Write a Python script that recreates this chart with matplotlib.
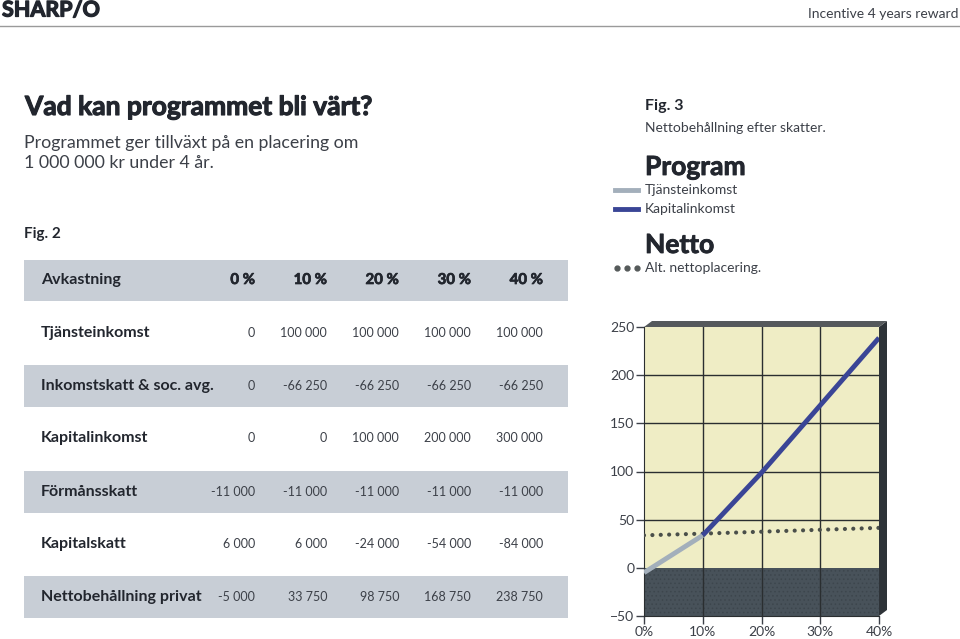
import numpy as np
import matplotlib.pyplot as plt
from matplotlib.patches import Rectangle, Polygon
import matplotlib.patheffects as pe

# tabell (Fig. 2)
avkastning = ["0 %", "10 %", "20 %", "30 %", "40 %"]
rad_namn = ["Tjänsteinkomst", "Inkomstskatt & soc. avg.", "Kapitalinkomst",
            "Förmånsskatt", "Kapitalskatt", "Nettobehållning privat"]
tjanst = ["0", "100 000", "100 000", "100 000", "100 000"]
inkomstskatt = ["0", "-66 250", "-66 250", "-66 250", "-66 250"]
kapitalinkomst = ["0", "0", "100 000", "200 000", "300 000"]
formansskatt = ["-11 000", "-11 000", "-11 000", "-11 000", "-11 000"]
kapitalskatt = ["6 000", "6 000", "-24 000", "-54 000", "-84 000"]
netto_txt = ["-5 000", "33 750", "98 750", "168 750", "238 750"]

# diagram (Fig. 3), tusental kr
x_pct = [0, 10, 20, 30, 40]
netto = [-5, 33.75, 98.75, 168.75, 238.75]
alt_netto = [33.75, 35.5, 37.5, 39.5, 41.5]
y_ticks = [-50, 0, 50, 100, 150, 200, 250]
x_ticklabels = ["0%", "10%", "20%", "30%", "40%"]

W, H = 960, 639
MORK = "#22262e"
TEXT = "#3c4048"
GRA_RAD = "#c8ced6"
BLA = "#3a4596"
LJUSGRA = "#a3afbb"
GUL = "#efedc5"
MORKGRUND = "#48525a"

plt.rcParams["font.family"] = ["Lato", "DejaVu Sans"]
plt.rcParams["hatch.linewidth"] = 0.6

fig = plt.figure(figsize=(W / 100, H / 100), dpi=100)
fig.patch.set_facecolor("white")


def tjock(lw):
    return [pe.withStroke(linewidth=lw, foreground=MORK)]


def px(x, y):
    return x / W, 1 - y / H


def text(x, y, s, **kw):
    kw.setdefault("color", MORK)
    kw.setdefault("va", "center")
    fig.text(*px(x, y), s, **kw)


# sidhuvud
text(2, 10, "SHARP/O", fontsize=15.5, fontweight="bold", path_effects=tjock(0.9))
text(958, 14, "Incentive 4 years reward", fontsize=10, ha="right", color=TEXT)
fig.add_artist(plt.Line2D([0, 1], [1 - 26 / H] * 2, color="#9a9a9a", lw=1))

# rubrik
text(25, 107, "Vad kan programmet bli värt?", fontsize=19, fontweight="bold",
     path_effects=tjock(0.8))
text(24, 143, "Programmet ger tillväxt på en placering om", fontsize=12.8, color=TEXT)
text(24, 163, "1 000 000 kr under 4 år.", fontsize=12.8, color=TEXT)
text(24, 234, "Fig. 2", fontsize=11, fontweight="bold")

# tabell
kol_x = [255, 327, 399, 471, 543]


def gra_rad(y0, y1):
    fig.add_artist(Rectangle(px(24, y1), 544 / W, (y1 - y0) / H,
                             transform=fig.transFigure, facecolor=GRA_RAD,
                             edgecolor="none", zorder=0))


gra_rad(260, 301)
text(41, 280, "Avkastning", fontsize=11.5, fontweight="bold")
for xk, s in zip(kol_x, avkastning):
    text(xk, 280, s, fontsize=10.8, fontweight="bold", ha="right",
         path_effects=tjock(0.5))

rader = [tjanst, inkomstskatt, kapitalinkomst, formansskatt, kapitalskatt, netto_txt]
rad_y = [333, 386, 438, 492, 544, 597]
gra_y = {1: (365, 407), 3: (471, 513), 5: (576, 618)}
for i, (namn, vals, yy) in enumerate(zip(rad_namn, rader, rad_y)):
    if i in gra_y:
        gra_rad(*gra_y[i])
    text(41, yy, namn, fontsize=11.5, fontweight="bold")
    for xk, s in zip(kol_x, vals):
        text(xk, yy, s, fontsize=9, ha="right", color=TEXT)

# legend (Fig. 3)
text(645, 106, "Fig. 3", fontsize=11.5, fontweight="bold")
text(645, 128, "Nettobehållning efter skatter.", fontsize=10, color=TEXT)
text(645, 167, "Program", fontsize=19, fontweight="bold", path_effects=tjock(0.6))
text(645, 190, "Tjänsteinkomst", fontsize=10, color=TEXT)
text(645, 209, "Kapitalinkomst", fontsize=10, color=TEXT)
text(645, 245, "Netto", fontsize=19, fontweight="bold", path_effects=tjock(0.6))
text(645, 268, "Alt. nettoplacering.", fontsize=10, color=TEXT)
fig.add_artist(plt.Line2D([615 / W, 638 / W], [1 - 190 / H] * 2, color=LJUSGRA, lw=3.5))
fig.add_artist(plt.Line2D([615 / W, 638 / W], [1 - 209 / H] * 2, color=BLA, lw=3.5))
fig.add_artist(plt.Line2D([617 / W, 627 / W, 637 / W], [1 - 268 / H] * 3,
                          color="#555a5a", lw=0, marker="o", markersize=3.5))

# diagram
ax = fig.add_axes([644 / W, 23 / H, 235 / W, 289 / H])
ax.set_xlim(0, 40)
ax.set_ylim(-50, 250)
ax.axhspan(0, 250, color=GUL, zorder=0)
ax.axhspan(-50, 0, facecolor=MORKGRUND, edgecolor="#3d464d", hatch="....",
           lw=0, zorder=0)
for xv in x_pct[1:-1]:
    ax.axvline(xv, color="#2a2e30", lw=1, zorder=1)
for yv in y_ticks[2:-1]:
    ax.axhline(yv, color="#2a2e30", lw=1, zorder=1)

ax.plot(x_pct, alt_netto, color="#4a4f4a", lw=3, linestyle=(0, (0.01, 2.0)),
        dash_capstyle="round", zorder=3)
ax.plot(x_pct[:2], netto[:2], color=LJUSGRA, lw=3.5, solid_capstyle="butt", zorder=4)
ax.plot(x_pct[1:], netto[1:], color=BLA, lw=3.5, solid_capstyle="butt", zorder=4)

ax.set_yticks(y_ticks)
ax.set_xticks(x_pct)
ax.set_xticklabels(x_ticklabels)
ax.tick_params(axis="both", colors=TEXT, labelsize=10, length=6, width=1, pad=1)
for sp in ["left", "bottom"]:
    ax.spines[sp].set_color("#2a2e30")
ax.spines["top"].set_visible(False)
ax.spines["right"].set_visible(False)

# 3D-kant
dx, dy = 8 / 235, 6 / 289
ax.add_patch(Polygon([(1, 0), (1 + dx, dy), (1 + dx, 1 + dy), (1, 1)],
                     closed=True, transform=ax.transAxes, clip_on=False,
                     facecolor="#2e3338", edgecolor="none"))
ax.add_patch(Polygon([(0, 1), (dx, 1 + dy), (1 + dx, 1 + dy), (1, 1)],
                     closed=True, transform=ax.transAxes, clip_on=False,
                     facecolor="#55595c", edgecolor="none"))

fig.savefig("out.png", dpi=100)
